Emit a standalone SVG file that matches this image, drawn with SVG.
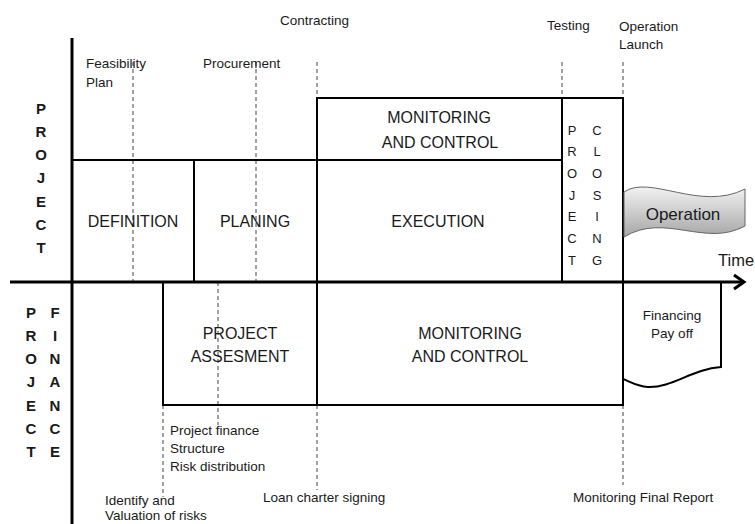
<svg xmlns="http://www.w3.org/2000/svg" width="755" height="524" viewBox="0 0 755 524">
<defs>
<style>
text{font-family:"Liberation Sans",Arial,sans-serif;fill:#1a1a1a}
.box{fill:none;stroke:#000;stroke-width:2}
.axis{fill:none;stroke:#000;stroke-width:3}
.dash{stroke:#444;stroke-width:1;stroke-dasharray:4 3;fill:none}
.lbl{font-size:13.5px}
.big{font-size:16px;text-anchor:middle}
.vb{font-size:15px;font-weight:bold;text-anchor:middle}
.vn{font-size:13px;text-anchor:middle}
.sm{font-size:13.5px;text-anchor:middle}
</style>
<linearGradient id="gOp" x1="0" y1="0" x2="0" y2="1">
<stop offset="0" stop-color="#f2f2f2"/>
<stop offset="1" stop-color="#a6a6a6"/>
</linearGradient>
</defs>
<rect width="755" height="524" fill="#fff"/>

<g id="milestones">
<line class="dash" x1="133" y1="62" x2="133" y2="282"/>
<line class="dash" x1="256" y1="62" x2="256" y2="282"/>
<line class="dash" x1="317" y1="62" x2="317" y2="98"/>
<line class="dash" x1="562" y1="62" x2="562" y2="98"/>
<line class="dash" x1="623" y1="62" x2="623" y2="98"/>
<line class="dash" x1="218" y1="282" x2="218" y2="425"/>
<line class="dash" x1="163" y1="405" x2="163" y2="497"/>
<line class="dash" x1="317" y1="405" x2="317" y2="490"/>
<line class="dash" x1="623" y1="405" x2="623" y2="485"/>
<text class="lbl" x="280" y="25">Contracting</text>
<text class="lbl" x="86" y="68">Feasibility</text>
<text class="lbl" x="86" y="87">Plan</text>
<text class="lbl" x="203" y="68">Procurement</text>
<text class="lbl" x="547" y="30">Testing</text>
<text class="lbl" x="619" y="31">Operation</text>
<text class="lbl" x="619" y="49">Launch</text>
<text class="lbl" x="170" y="435">Project finance</text>
<text class="lbl" x="170" y="453">Structure</text>
<text class="lbl" x="170" y="471">Risk distribution</text>
<text class="lbl" x="263" y="502">Loan charter signing</text>
<text class="lbl" x="573" y="502">Monitoring Final Report</text>
<text class="lbl" x="105" y="505">Identify and</text>
<text class="lbl" x="105" y="520">Valuation of risks</text>
</g>

<g id="project-label">
<text class="vb" x="41" y="114">P</text>
<text class="vb" x="41" y="137">R</text>
<text class="vb" x="41" y="160">O</text>
<text class="vb" x="41" y="183">J</text>
<text class="vb" x="41" y="207">E</text>
<text class="vb" x="41" y="230">C</text>
<text class="vb" x="41" y="253">T</text>
</g>

<g id="finance-label">
<text class="vb" x="31" y="318">P</text>
<text class="vb" x="31" y="341">R</text>
<text class="vb" x="31" y="364">O</text>
<text class="vb" x="31" y="387">J</text>
<text class="vb" x="31" y="411">E</text>
<text class="vb" x="31" y="434">C</text>
<text class="vb" x="31" y="457">T</text>
<text class="vb" x="55" y="318">F</text>
<text class="vb" x="55" y="341">I</text>
<text class="vb" x="55" y="364">N</text>
<text class="vb" x="55" y="387">A</text>
<text class="vb" x="55" y="411">N</text>
<text class="vb" x="55" y="434">C</text>
<text class="vb" x="55" y="457">E</text>
</g>

<g id="definition">
<rect class="box" x="72" y="160" width="122" height="122"/>
<text class="big" x="133" y="227">DEFINITION</text>
</g>
<g id="planing">
<rect class="box" x="194" y="160" width="123" height="122"/>
<text class="big" x="255" y="227">PLANING</text>
</g>
<g id="monitoring-top">
<rect class="box" x="317" y="98" width="245" height="62"/>
<text class="big" x="439" y="123">MONITORING</text>
<text class="big" x="440" y="148">AND CONTROL</text>
</g>
<g id="execution">
<rect class="box" x="317" y="160" width="245" height="122"/>
<text class="big" x="438" y="227">EXECUTION</text>
</g>
<g id="project-closing">
<rect class="box" x="562" y="98" width="61" height="184"/>
<text class="vn" x="572" y="135">P</text>
<text class="vn" x="572" y="156">R</text>
<text class="vn" x="572" y="178">O</text>
<text class="vn" x="572" y="200">J</text>
<text class="vn" x="572" y="221">E</text>
<text class="vn" x="572" y="243">C</text>
<text class="vn" x="572" y="265">T</text>
<text class="vn" x="597" y="135">C</text>
<text class="vn" x="597" y="156">L</text>
<text class="vn" x="597" y="178">O</text>
<text class="vn" x="597" y="200">S</text>
<text class="vn" x="597" y="221">I</text>
<text class="vn" x="597" y="243">N</text>
<text class="vn" x="597" y="265">G</text>
</g>
<g id="operation">
<path d="M624,192 C650,174 700,212 745,189 L745,226 C705,248 665,212 624,237 Z" fill="url(#gOp)" stroke="#666" stroke-width="1"/>
<text x="683" y="220" style="font-size:17px;text-anchor:middle">Operation</text>
</g>

<g id="project-assesment">
<rect class="box" x="163" y="282" width="154" height="123"/>
<text class="big" x="240" y="339">PROJECT</text>
<text class="big" x="240" y="362">ASSESMENT</text>
</g>
<g id="monitoring-bottom">
<rect class="box" x="317" y="282" width="306" height="123"/>
<text class="big" x="470" y="339">MONITORING</text>
<text class="big" x="470" y="362">AND CONTROL</text>
</g>
<g id="financing">
<path class="box" d="M623,282 H721 V367 C692,369 672,388 648,387 C636,386 629,381 623,379"/>
<text class="sm" x="672" y="320">Financing</text>
<text class="sm" x="672" y="338">Pay off</text>
</g>

<g id="connectors">
<line class="axis" x1="72" y1="38" x2="72" y2="524"/>
<line class="axis" x1="10" y1="282" x2="743" y2="282"/>
<path class="axis" d="M734,275 L744,282 L734,289" stroke-linejoin="miter"/>
<text x="718" y="266" style="font-size:16.5px">Time</text>
</g>
</svg>
